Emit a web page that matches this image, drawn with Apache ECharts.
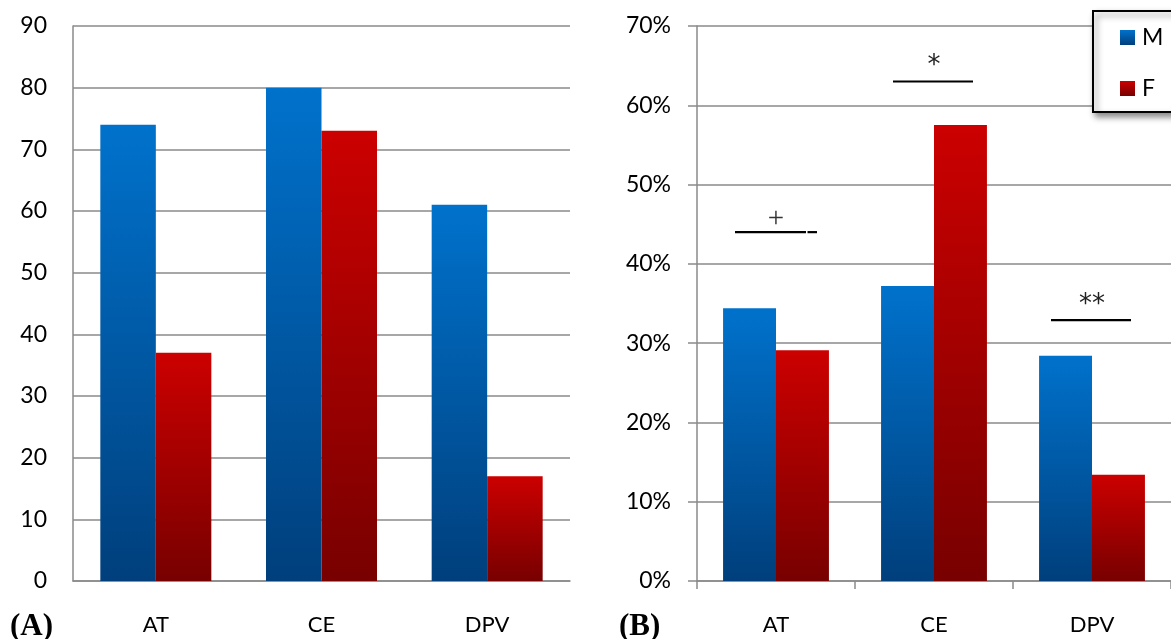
<!DOCTYPE html>
<html>
<head>
<meta charset="utf-8">
<script src="https://cdn.jsdelivr.net/npm/echarts@6/dist/echarts.min.js"></script>
<style>
html,body{margin:0;padding:0;background:#fff;}
#c{width:1171px;height:639px;}
</style>
</head>
<body>
<div id="c"></div>
<script>
// Data
var categories = ['AT', 'CE', 'DPV'];
var countM = [74, 80, 61];
var countF = [37, 73, 17];
var pctM = [34.4, 37.2, 28.4];
var pctF = [29.1, 57.5, 13.4];
var leftTicks = {min: 0, max: 90, interval: 10};
var rightTicks = {min: 0, max: 70, interval: 10};
var sigLabels = ['+', '*', '**'];
var sigLevels = [44.0, 63.0, 32.9];

var FONT = 'Lato';
var blueGrad = new echarts.graphic.LinearGradient(0, 0, 0, 1, [
  {offset: 0, color: '#0072CC'}, {offset: 1, color: '#003F7C'}]);
var redGrad = new echarts.graphic.LinearGradient(0, 0, 0, 1, [
  {offset: 0, color: '#CC0000'}, {offset: 1, color: '#780000'}]);
var barShadow = {shadowBlur: 4, shadowColor: 'rgba(0,0,0,0.35)', shadowOffsetX: 2, shadowOffsetY: 0};
var gridColor = '#8a8a8a';

function barSeries(name, data, idx, grad) {
  return {
    name: name, type: 'bar', xAxisIndex: idx, yAxisIndex: idx, data: data,
    barGap: '0%', barCategoryGap: '33%',
    itemStyle: Object.assign({color: grad}, barShadow)
  };
}

var chart = echarts.init(document.getElementById('c'), null, {renderer: 'canvas'});
var option = {
  animation: false,
  backgroundColor: '#fff',
  grid: [
    {left: 73, width: 497, top: 26, bottom: 58},
    {left: 697, width: 474, top: 26, bottom: 58}
  ],
  legend: {
    orient: 'vertical', left: 1093, top: 11,
    data: ['M', 'F'],
    icon: 'rect', itemWidth: 15, itemHeight: 15, itemGap: 28,
    padding: [15, 20, 12, 27],
    backgroundColor: '#fff', borderColor: '#000', borderWidth: 2, borderRadius: 0,
    shadowBlur: 6, shadowColor: 'rgba(0,0,0,0.45)', shadowOffsetX: 3, shadowOffsetY: 4,
    textStyle: {fontFamily: FONT, fontSize: 23, color: '#000', padding: [0, 0, 0, 2]}
  },
  xAxis: [
    {type: 'category', gridIndex: 0, data: categories,
     axisLine: {lineStyle: {color: gridColor, width: 1.5}},
     axisTick: {show: false},
     axisLabel: {fontFamily: FONT, fontSize: 22, color: '#000', margin: 33}},
    {type: 'category', gridIndex: 1, data: categories,
     axisLine: {lineStyle: {color: gridColor, width: 1.5}},
     axisTick: {show: true, length: 8, lineStyle: {color: gridColor, width: 1.5}},
     axisLabel: {fontFamily: FONT, fontSize: 22, color: '#000', margin: 33}}
  ],
  yAxis: [
    {type: 'value', gridIndex: 0, min: leftTicks.min, max: leftTicks.max, interval: leftTicks.interval,
     axisLine: {show: true, lineStyle: {color: gridColor, width: 1.5}},
     axisTick: {show: false},
     splitLine: {lineStyle: {color: gridColor, width: 1.5}},
     axisLabel: {fontFamily: FONT, fontSize: 23, color: '#000', margin: 26}},
    {type: 'value', gridIndex: 1, min: rightTicks.min, max: rightTicks.max, interval: rightTicks.interval,
     axisLine: {show: true, lineStyle: {color: gridColor, width: 1.5}},
     axisTick: {show: true, length: 9, lineStyle: {color: gridColor, width: 1.5}},
     splitLine: {lineStyle: {color: gridColor, width: 1.5}},
     axisLabel: {fontFamily: FONT, fontSize: 23, color: '#000', margin: 26, formatter: '{value}%'}}
  ],
  series: [
    barSeries('M', countM, 0, blueGrad),
    barSeries('F', countF, 0, redGrad),
    barSeries('M', pctM, 1, blueGrad),
    barSeries('F', pctF, 1, redGrad)
  ]
};
chart.setOption(option);

// significance annotations computed from the axis scales
var elements = [];
var halfW = 41;
for (var i = 0; i < categories.length; i++) {
  var p = chart.convertToPixel({xAxisIndex: 1, yAxisIndex: 1}, [categories[i], sigLevels[i]]);
  var cx = p[0], cy = p[1];
  if (sigLabels[i] === '+') {
    elements.push({type: 'line', shape: {x1: cx - halfW, y1: cy, x2: cx + 30, y2: cy}, style: {stroke: '#000', lineWidth: 2.2}, z: 10});
    elements.push({type: 'line', shape: {x1: cx + 31.5, y1: cy, x2: cx + halfW, y2: cy}, style: {stroke: '#000', lineWidth: 2.2}, z: 10});
    elements.push({type: 'text', x: cx, y: cy - 13, style: {text: '+', fontFamily: 'Liberation Serif', fontSize: 29, fill: '#333', align: 'center', verticalAlign: 'middle'}, z: 10});
  } else {
    elements.push({type: 'line', shape: {x1: cx - halfW, y1: cy, x2: cx + halfW - 2, y2: cy}, style: {stroke: '#000', lineWidth: 2.2}, z: 10});
    elements.push({type: 'text', x: cx, y: cy - 15, style: {text: sigLabels[i], fontFamily: 'DejaVu Sans', fontSize: 26, fill: '#222', align: 'center', verticalAlign: 'middle'}, z: 10});
  }
}
elements.push({type: 'text', left: 10, top: 611, style: {text: '(A)', fontFamily: 'Liberation Serif', fontWeight: 'bold', fontSize: 31, fill: '#000'}});
elements.push({type: 'text', left: 619, top: 611, style: {text: '(B)', fontFamily: 'Liberation Serif', fontWeight: 'bold', fontSize: 31, fill: '#000'}});
chart.setOption({graphic: {elements: elements}});
</script>
</body>
</html>
